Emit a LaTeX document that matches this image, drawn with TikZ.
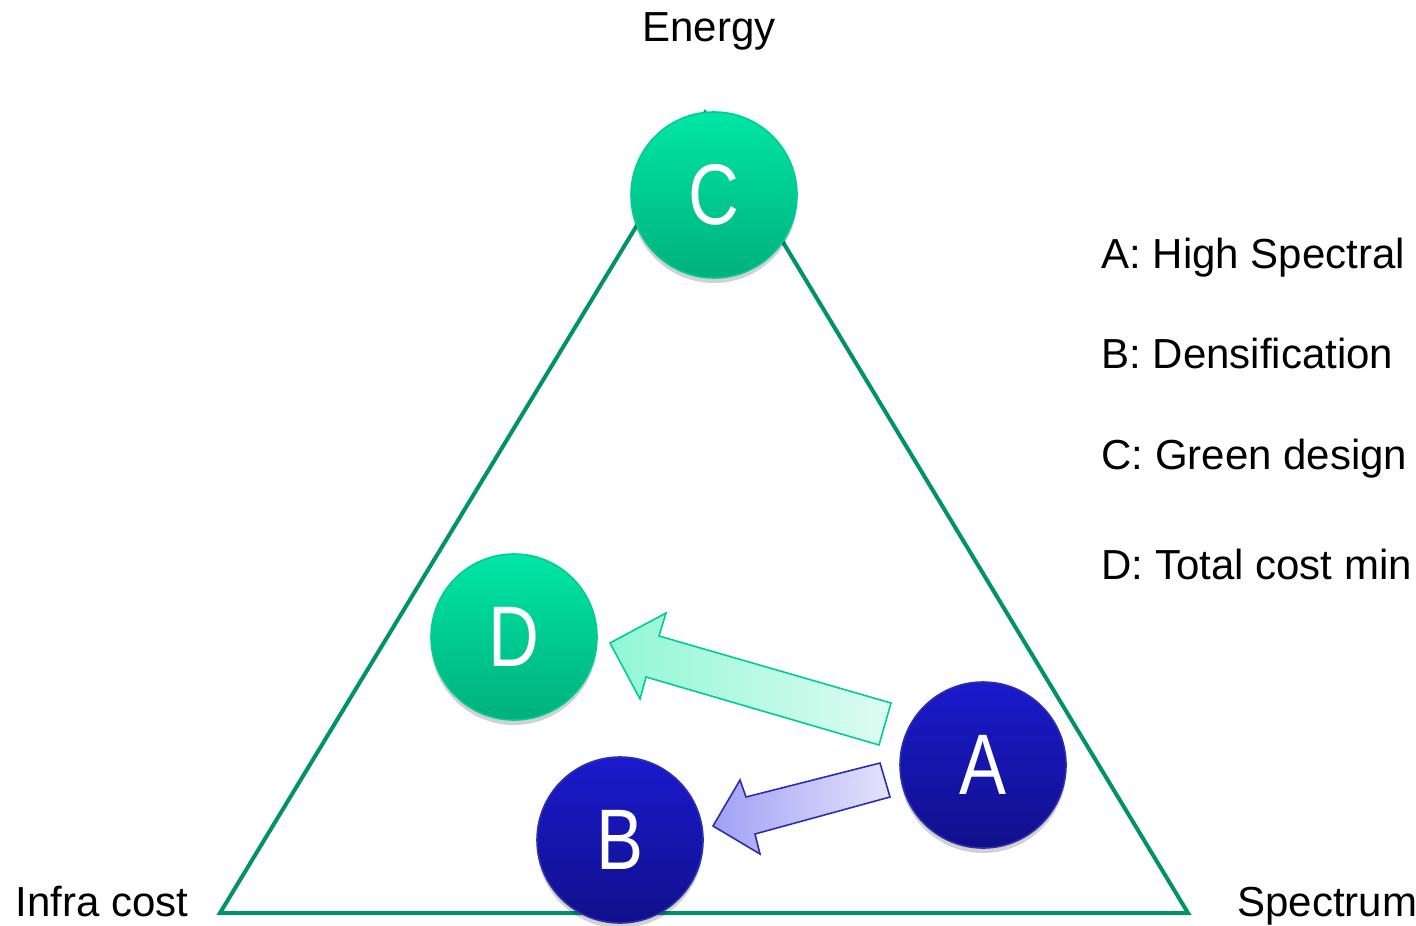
\documentclass[tikz,border=0pt]{standalone}
\usepackage{fontspec}
\setmainfont{Liberation Sans}
\usepackage{tikz}
\usetikzlibrary{calc,shadows}

\definecolor{edgegreen}{RGB}{0,145,110}
\definecolor{gtop}{RGB}{0,230,166}
\definecolor{gbot}{RGB}{0,176,124}
\definecolor{gline}{RGB}{0,205,148}
\definecolor{btop}{RGB}{26,26,204}
\definecolor{bbot}{RGB}{16,16,140}
\definecolor{bline}{RGB}{45,45,175}
\definecolor{ghead}{RGB}{145,247,213}
\definecolor{gtail}{RGB}{222,252,241}
\definecolor{bhead}{RGB}{160,160,245}
\definecolor{btail}{RGB}{228,228,251}

\newcommand{\ballletter}[1]{\scalebox{0.82}[1]{#1}}

\tikzset{
  ball/.style={circle, minimum size=83pt, inner sep=0pt, text=white,
    font=\fontsize{43}{43}\selectfont, line width=0.8pt,
    drop shadow={shadow xshift=0pt, shadow yshift=-2.5pt, opacity=0.18, fill=black}},
  greenball/.style={ball, draw=gline, top color=gtop, bottom color=gbot},
  blueball/.style={ball, draw=bline, top color=btop, bottom color=bbot},
  label/.style={font=\fontsize{21}{25}\selectfont, inner sep=0pt},
}

\begin{document}
\begin{tikzpicture}[x=0.5pt, y=-0.5pt]
        % --- 1. Frame ---
        \clip (0,0) rectangle (1416,925);
        \useasboundingbox (0,0) rectangle (1416,925);

        % --- 2. Triangle ---
        \coordinate (Top) at (705,113);
        \coordinate (Left) at (220,913);
        \coordinate (Right) at (1188,913);
        \draw[edgegreen, line width=2pt] (Left) -- (Top) -- (Right) -- cycle;

        % Corner labels
        \node[label, anchor=base] (energy) at (709,42) {Energy};
        \node[label, anchor=base west] (infra) at (15,916) {Infra cost};
        \node[label, anchor=base west] (spec) at (1237,916) {Spectrum};

        % --- 3. Arrows ---
        \draw[draw=gline, line width=0.8pt, left color=ghead, right color=gtail]
          (610,643) -- (666,613) -- (659,636) -- (891,703) -- (879,745)
          -- (646,677) -- (640,699) -- cycle;
        \draw[draw=bline, line width=0.8pt, left color=bhead, right color=btail]
          (713,826) -- (740,780) -- (746,797) -- (880,763) -- (890,797)
          -- (755,834) -- (760,854) -- cycle;

        % --- 4. Design points ---
        \node[greenball] (C) at (714,195) {\ballletter{C}};
        \node[greenball] (D) at (514,637) {\ballletter{D}};
        \node[blueball] (A) at (983,765) {\ballletter{A}};
        \node[blueball] (B) at (620,840) {\ballletter{B}};

        % --- 5. Legend ---
        \node[label, anchor=base west] (legA) at (1101,268) {A: High Spectral};
        \node[label, anchor=base west] (legB) at (1101,368) {B: Densification};
        \node[label, anchor=base west] (legC) at (1101,469) {C: Green design};
        \node[label, anchor=base west] (legD) at (1101,579) {D: Total cost min};
    \end{tikzpicture}
\end{document}
